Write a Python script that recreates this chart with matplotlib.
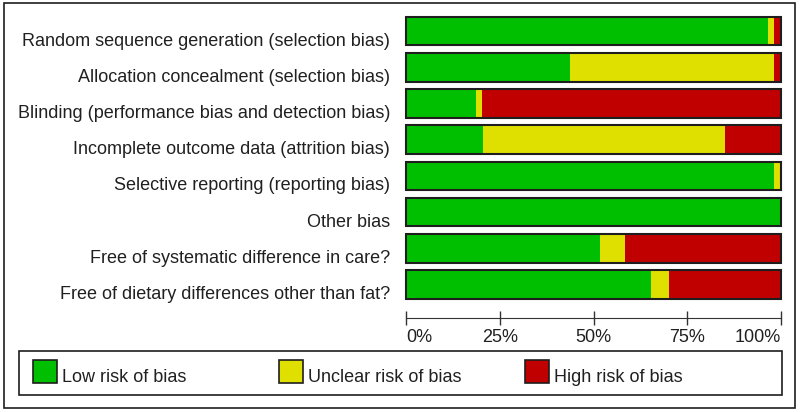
import numpy as np
import matplotlib
matplotlib.use('Agg')
import matplotlib.pyplot as plt
from matplotlib.patches import Rectangle
from matplotlib.transforms import ScaledTranslation

plt.rcParams['font.family'] = ['Liberation Sans', 'DejaVu Sans']

# risk of bias domains and % of studies per judgement
domains = ['Random sequence generation (selection bias)',
           'Allocation concealment (selection bias)',
           'Blinding (performance bias and detection bias)',
           'Incomplete outcome data (attrition bias)',
           'Selective reporting (reporting bias)',
           'Other bias',
           'Free of systematic difference in care?',
           'Free of dietary differences other than fat?']
low = [96.4, 43.7, 18.7, 20.5, 98.1, 100.0, 51.7, 65.3]
unclear = [1.7, 54.4, 1.6, 64.6, 1.9, 0.0, 6.7, 4.7]
high = [1.9, 1.9, 79.7, 14.9, 0.0, 0.0, 41.6, 30.0]
tick_vals = [0, 25, 50, 75, 100]
tick_labels = ['0%', '25%', '50%', '75%', '100%']
legend_labels = ['Low risk of bias', 'Unclear risk of bias', 'High risk of bias']

green, yellow, red = '#00bf00', '#e0e000', '#c00000'
edge = '#1e1e1e'
W, H = 800, 412
fs = 13

fig = plt.figure(figsize=(8, 4.12), dpi=100)
ax = fig.add_axes([406 / W, 1 - 302.6 / H, 375 / W, 289.6 / H])

y = np.arange(len(domains))
bh = 0.79
ax.barh(y, low, height=bh, color=green, lw=0)
ax.barh(y, unclear, left=low, height=bh, color=yellow, lw=0)
ax.barh(y, high, left=np.add(low, unclear), height=bh, color=red, lw=0)
total = np.add(np.add(low, unclear), high)
outline = ax.barh(y, total, height=bh, fill=False, edgecolor=edge, lw=1.5)
for p in outline:
    p.set_clip_on(False)

ax.set_xlim(0, 100)
ax.set_ylim(len(domains) - 0.5, -0.5)

for s in ['top', 'right', 'left']:
    ax.spines[s].set_visible(False)
ax.spines['bottom'].set_position(('outward', 11.1))
ax.spines['bottom'].set_color('#333333')

ax.set_xticks(tick_vals, tick_labels)
ax.tick_params(axis='x', direction='inout', length=9.4, width=1,
               color='#333333', pad=3, labelsize=fs, labelcolor='#202020')
xl = ax.get_xticklabels()
xl[0].set_ha('left')
xl[-1].set_ha('right')

ax.set_yticks(y, domains)
ax.tick_params(axis='y', length=0, pad=11.5, labelsize=fs, labelcolor='#202020')
off = ScaledTranslation(0, -8 / 100, fig.dpi_scale_trans)
for lab in ax.get_yticklabels():
    lab.set_transform(lab.get_transform() + off)

# outer frame and legend box
fig.add_artist(Rectangle((4 / W, 1 - 408 / H), 791 / W, 405 / H,
                         transform=fig.transFigure, fill=False, ec=edge, lw=1.2))
fig.add_artist(Rectangle((19 / W, 1 - 395 / H), 763 / W, 44.5 / H,
                         transform=fig.transFigure, fill=False, ec=edge, lw=1.2))

for x0, c, lab in zip([33, 279, 525], [green, yellow, red], legend_labels):
    fig.add_artist(Rectangle((x0 / W, 1 - 383 / H), 24 / W, 23 / H,
                             transform=fig.transFigure, fc=c, ec=edge, lw=1.2))
    fig.text((x0 + 29) / W, 1 - 382 / H, lab, fontsize=fs, color='#202020',
             va='baseline', ha='left')

fig.savefig('out.png', dpi=100)
